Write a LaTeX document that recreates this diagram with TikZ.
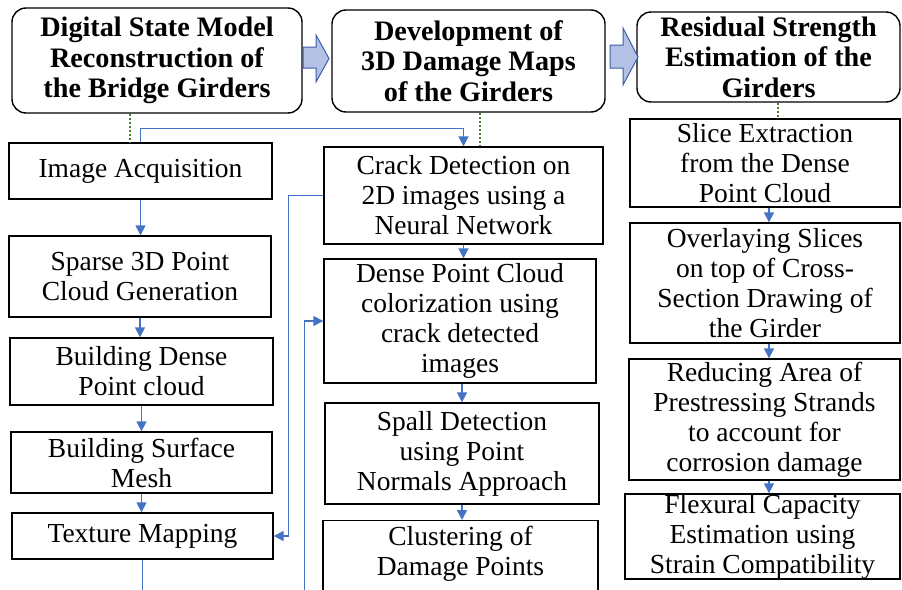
\documentclass[tikz,border=0pt]{standalone}
\usepackage{fontspec}
\setmainfont{Liberation Serif}
\newfontfamily\tnr{Liberation Serif}
\usetikzlibrary{arrows.meta,calc}
\definecolor{cblue}{HTML}{4472C4}
\definecolor{cgreen}{HTML}{4E7A2E}
\definecolor{afill}{HTML}{B3C1E5}
\definecolor{aedge}{HTML}{3C5DAA}
\tikzset{
 box/.style={draw=black, line width=1.4pt, align=center, inner sep=0pt, font=\tnr\fontsize{27.5}{30}\selectfont},
 txt/.style={align=center, inner sep=0pt, font=\tnr\fontsize{27.5}{30}\selectfont},
 head/.style={draw=black, line width=1.4pt, rounded corners=14pt, align=center, inner sep=0pt, font=\tnr\fontsize{28.2}{30.5}\selectfont\bfseries},
 arr/.style={draw=cblue, line width=1.6pt, -{Triangle[width=10pt,length=10pt]}},
 conn/.style={draw=cblue, line width=1.6pt},
 dots/.style={draw=cgreen, line width=2pt, dotted},
 blockarrow/.style={fill=afill, draw=aedge, line width=1pt},
}
\begin{document}
\begin{tikzpicture}[x=1pt, y=-1pt]
\clip (0,0) rectangle (902,589);
\fill[white] (0,0) rectangle (902,589);
% headers
\node[head, minimum width=290pt, minimum height=105pt] (h1) at (157,60.5) {Digital State Model\\Reconstruction of\\the Bridge Girders};
\node[head, minimum width=273pt, minimum height=102pt] (h2) at (468.5,61) {Development of\\3D Damage Maps\\of the Girders};
\node[head, minimum width=263pt, minimum height=90pt] (h3) at (768.5,57) {Residual Strength\\Estimation of the\\Girders};
% block arrows
\draw[blockarrow] (303,47) -- (316,47) -- (316,35) -- (329,58.5) -- (316,82) -- (316,68) -- (303,68) -- cycle;
\draw[blockarrow] (610,45) -- (623,45) -- (623,28) -- (638,57) -- (623,85) -- (623,68) -- (610,68) -- cycle;
% left column
\node[box, minimum width=263pt, minimum height=56pt] (ia) at (140.5,171) {Image Acquisition};
\node[box, minimum width=262pt, minimum height=81pt] (sp) at (140,276.5) {Sparse 3D Point\\Cloud Generation};
\node[box, minimum width=263pt, minimum height=67pt] (bd) at (141.5,371.5) {Building Dense\\Point cloud};
\node[box, minimum width=261pt, minimum height=61pt] (bs) at (141.5,462.5) {Building Surface\\Mesh};
\node[box, minimum width=261pt, minimum height=46pt] (tm) at (142.5,536) {Texture Mapping};
% middle column
\node[box, minimum width=279pt, minimum height=97pt] (cd) at (463.5,195.5) {Crack Detection on\\2D images using a\\Neural Network};
\node[box, minimum width=272pt, minimum height=124pt] (dp) at (460,321) {Dense Point Cloud\\colorization using\\crack detected\\images};
\node[box, minimum width=274pt, minimum height=101pt] (sd) at (462,453.5) {Spall Detection\\using Point\\Normals Approach};
\node[box, minimum width=275pt, minimum height=140pt, anchor=north] (cl) at (460.5,520) {};
\node[txt] (clt) at ([yshift=-34pt]cl.north) {Clustering of\\Damage Points};
% right column
\node[box, minimum width=270pt, minimum height=88pt] (se) at (765,163) {Slice Extraction\\from the Dense\\Point Cloud};
\node[box, minimum width=270pt, minimum height=120pt] (ov) at (765,283) {Overlaying Slices\\on top of Cross-\\Section Drawing of\\the Girder};
\node[box, minimum width=271pt, minimum height=121pt] (rd) at (764.5,419.5) {Reducing Area of\\Prestressing Strands\\to account for\\corrosion damage};
\node[box, minimum width=275pt, minimum height=83pt] (fc) at (762.5,536.5) {Flexural Capacity\\Estimation using\\Strain Compatibility};
% dotted links from headers
\draw[dots] ([xshift=-27pt]h1.south) -- ([xshift=-27pt]h1.south |- ia.north);
\draw[dots] ([xshift=11.5pt]h2.south) -- ([xshift=11.5pt]h2.south |- cd.north);
\draw[dots] ([xshift=9.5pt]h3.south) -- ([xshift=9.5pt]h3.south |- se.north);
% left column arrows
\draw[arr] (ia.south) -- (ia.south |- sp.north);
\draw[arr] (sp.south) -- (sp.south |- bd.north);
\draw[arr] (bd.south) -- (bd.south |- bs.north);
\draw[arr] (bs.south) -- (bs.south |- tm.north);
\coordinate (b1) at (142.5,600);
\draw[conn] (tm.south) -- (b1);
% middle column arrows
\draw[arr] (cd.south) -- (cd.south |- dp.north);
\draw[arr] (sd.north |- dp.south) -- (sd.north);
\draw[arr] (sd.south) -- (sd.south |- cl.north);
% right column arrows
\coordinate (rx) at (769,0);
\draw[arr] (se.south -| rx) -- (ov.north -| rx);
\draw[arr] (ov.south -| rx) -- (rd.north -| rx);
\draw[arr] (rd.south -| rx) -- (fc.north -| rx);
% cross connectors
\draw[arr] (ia.north) -- ++(0,-14) -| (cd.north);
\coordinate (m1) at (288.5,0);
\draw[arr] (cd.west) -- (cd.west -| m1) |- (tm.east);
\coordinate (b2) at (304.5,600);
\draw[arr] (b2) |- (dp.west);
\end{tikzpicture}
\end{document}
